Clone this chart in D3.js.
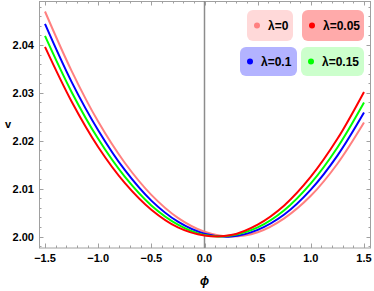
<!DOCTYPE html>
<html>
<head>
<meta charset="utf-8">
<script src="https://cdn.jsdelivr.net/npm/d3@7"></script>
<style>
  body { margin: 0; background: #fff; }
  text { font-family: "Liberation Sans", Arial, sans-serif; }
</style>
</head>
<body>
<div id="chart"></div>
<script>
// phi samples
var phi = [-1.5, -1.25, -1.0, -0.75, -0.5, -0.25, 0, 0.25, 0.5, 0.75, 1.0, 1.25, 1.5];
// V values
var vLam0 = [2.0470, 2.0346, 2.0240, 2.0154, 2.0087, 2.0039, 2.0010, 2.0000, 2.0009, 2.0038, 2.0085, 2.0152, 2.0238];
var vLam005 = [2.0396, 2.0282, 2.0187, 2.0112, 2.0056, 2.0019, 2.0002, 2.0003, 2.0025, 2.0065, 2.0125, 2.0204, 2.0302];
var vLam01 = [2.0444, 2.0323, 2.0222, 2.0139, 2.0075, 2.0031, 2.0006, 2.0000, 2.0014, 2.0046, 2.0098, 2.0169, 2.0259];
var vLam015 = [2.0419, 2.0302, 2.0204, 2.0125, 2.0065, 2.0025, 2.0003, 2.0002, 2.0019, 2.0055, 2.0111, 2.0186, 2.0280];

var seriesNames = ["\u03bb=0", "\u03bb=0.05", "\u03bb=0.1", "\u03bb=0.15"];
var seriesVals = [vLam0, vLam005, vLam01, vLam015];
var colors = ["#ff8080", "#ff0000", "#0000ff", "#00ff00"];
var boxFill = ["#ffd9d9", "#ffaaaa", "#b3b3ff", "#ccffcc"];

var xTicks = [-1.5, -1.0, -0.5, 0.0, 0.5, 1.0, 1.5];
var yTicks = [2.00, 2.01, 2.02, 2.03, 2.04];

var W = 374, H = 291;
var svg = d3.select("#chart").append("svg")
    .attr("width", W).attr("height", H);

var x = d3.scaleLinear().domain([-1.5564, 1.5658]).range([39, 371]);
var y = d3.scaleLinear().domain([1.9976, 2.04919]).range([248, 1]);

var frameColor = "#a0a0a0";

// minor/major ticks
var xMinor = d3.range(-15, 16).map(function (d) { return d / 10; });
var yMinor = d3.range(-1, 25).map(function (d) { return 2 + d * 0.002; });

function isMajorX(v) { return Math.abs(v * 2 - Math.round(v * 2)) < 1e-6; }
function isMajorY(v) { return Math.abs((v - 2) * 100 - Math.round((v - 2) * 100)) < 1e-6; }

var ticks = svg.append("g").attr("stroke", frameColor).attr("stroke-width", 1);
xMinor.forEach(function (v) {
    var len = isMajorX(v) ? 4.5 : 2.5;
    var px = Math.round(x(v)) + 0.5;
    ticks.append("line").attr("x1", px).attr("x2", px).attr("y1", 248).attr("y2", 248 - len);
    ticks.append("line").attr("x1", px).attr("x2", px).attr("y1", 1).attr("y2", 1 + len);
});
yMinor.forEach(function (v) {
    var len = isMajorY(v) ? 4.5 : 2.5;
    var py = Math.round(y(v)) + 0.5;
    ticks.append("line").attr("y1", py).attr("y2", py).attr("x1", 39).attr("x2", 39 + len);
    ticks.append("line").attr("y1", py).attr("y2", py).attr("x1", 371).attr("x2", 371 - len);
});

// frame
svg.append("rect")
    .attr("x", 39.5).attr("y", 1.5)
    .attr("width", 331).attr("height", 246.5)
    .attr("fill", "none").attr("stroke", frameColor).attr("stroke-width", 1);

// vertical axis at phi = 0
svg.append("line")
    .attr("x1", x(0)).attr("x2", x(0))
    .attr("y1", 1).attr("y2", 248)
    .attr("stroke", "#8c8c8c").attr("stroke-width", 1.5);

// tick labels
svg.append("g").selectAll("text")
    .data(xTicks).enter().append("text")
    .attr("x", function (d) { return x(d); })
    .attr("y", 262)
    .attr("text-anchor", "middle")
    .attr("font-size", 11).attr("font-weight", "bold")
    .text(function (d) { return d < 0 ? "\u2212" + Math.abs(d).toFixed(1) : d.toFixed(1); });

svg.append("g").selectAll("text")
    .data(yTicks).enter().append("text")
    .attr("x", 34)
    .attr("y", function (d) { return y(d) + 4; })
    .attr("text-anchor", "end")
    .attr("font-size", 11).attr("font-weight", "bold")
    .text(function (d) { return d.toFixed(2); });

// axis labels
svg.append("text").attr("x", 5).attr("y", 128)
    .attr("font-size", 11).attr("font-weight", "bold").text("v");
svg.append("text").attr("x", x(0)).attr("y", 285)
    .attr("text-anchor", "middle")
    .attr("font-size", 12).attr("font-weight", "bold").attr("font-style", "italic")
    .text("\u03d5");

// curves
var line = d3.line()
    .x(function (d) { return x(d[0]); })
    .y(function (d) { return y(d[1]); })
    .curve(d3.curveCatmullRom);

var drawOrder = [0, 2, 3, 1];
drawOrder.forEach(function (i) {
    svg.append("path")
        .datum(phi.map(function (p, k) { return [p, seriesVals[i][k]]; }))
        .attr("d", line)
        .attr("fill", "none")
        .attr("stroke", colors[i])
        .attr("stroke-width", 2);
});

// legend
var legendBoxes = [
    { x: 247, y: 10, w: 46, h: 31 },
    { x: 302, y: 10, w: 62, h: 31 },
    { x: 240, y: 47, w: 57, h: 29 },
    { x: 301, y: 47, w: 63, h: 29 }
];
var legend = svg.append("g");
legendBoxes.forEach(function (b, i) {
    var g = legend.append("g");
    g.append("rect")
        .attr("x", b.x).attr("y", b.y).attr("width", b.w).attr("height", b.h)
        .attr("rx", 6).attr("fill", boxFill[i]);
    g.append("circle")
        .attr("cx", b.x + 10).attr("cy", b.y + b.h / 2)
        .attr("r", 3).attr("fill", colors[i]);
    g.append("text")
        .attr("x", b.x + 21).attr("y", b.y + b.h / 2 + 4.5)
        .attr("font-size", 12).attr("font-weight", "bold")
        .text(seriesNames[i]);
});
</script>
</body>
</html>
